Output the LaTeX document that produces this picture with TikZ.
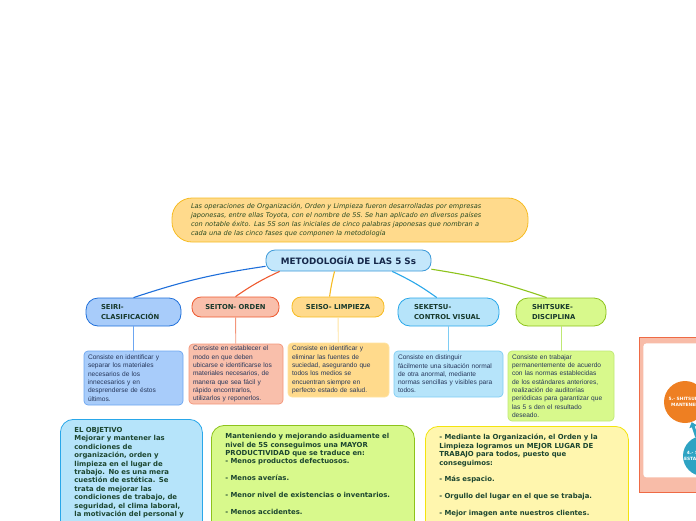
\documentclass[tikz,border=0pt]{standalone}
\usepackage{fontspec}
\setmainfont{DejaVu Sans}
\newfontfamily\descfont{Liberation Sans}
\usetikzlibrary{arrows.meta}
\definecolor{introFill}{HTML}{FFDA8C}
\definecolor{introLine}{HTML}{F6BB22}
\definecolor{introText}{HTML}{2A4A22}
\definecolor{metoFill}{HTML}{C4E7FB}
\definecolor{metoLine}{HTML}{3D9AD8}
\definecolor{metoText}{HTML}{16284A}
\definecolor{headText}{HTML}{17392C}
\definecolor{descText}{HTML}{26365A}
\definecolor{boldText}{HTML}{1C4630}
\definecolor{seiriFill}{HTML}{A8CCFA}
\definecolor{seiriLine}{HTML}{1F6FDA}
\definecolor{seiriSoft}{HTML}{6CA6F1}
\definecolor{seitonFill}{HTML}{F9BFAB}
\definecolor{seitonLine}{HTML}{EE5A30}
\definecolor{seitonSoft}{HTML}{F3957A}
\definecolor{seisoFill}{HTML}{FFDA8C}
\definecolor{seisoLine}{HTML}{F6BB22}
\definecolor{seisoSoft}{HTML}{FFE3A0}
\definecolor{seketsuFill}{HTML}{B6E4FA}
\definecolor{seketsuLine}{HTML}{29A7E9}
\definecolor{seketsuSoft}{HTML}{7ECDF4}
\definecolor{shitsukeFill}{HTML}{D8F98C}
\definecolor{shitsukeLine}{HTML}{8DC31C}
\definecolor{shitsukeSoft}{HTML}{BFE874}
\definecolor{ventajaFill}{HTML}{FFF6AE}
\definecolor{ventajaLine}{HTML}{F3E40E}
\definecolor{fotoFill}{HTML}{F8BCA8}
\definecolor{fotoLine}{HTML}{EE6A45}
\definecolor{pasoNaranja}{HTML}{EE7F22}
\definecolor{pasoTeal}{HTML}{2EA3C3}
\tikzset{
  caja/.style={draw,line width=.8pt,inner sep=0pt},
  tema/.style={caja,rounded corners=9pt,text=headText,font=\fontsize{6.8}{9.2}\selectfont\bfseries},
  desc/.style={caja,line width=.7pt,rounded corners=4pt,inner xsep=4pt,align=left,text=descText,font=\descfont\fontsize{6.6}{8.3}\selectfont},
  bloque/.style={caja,rounded corners=13pt,anchor=north west,inner xsep=14pt,inner ysep=8pt,text depth=110pt,align=left,text=boldText,font=\fontsize{6.9}{8.4}\selectfont\bfseries},
  rama/.style={line width=1.1pt},
  tallo/.style={line width=.9pt}
}
\begin{document}
\begin{tikzpicture}[x=1pt,y=-1pt]
\useasboundingbox (0,0) rectangle (696,520);
\clip (0,0) rectangle (696,520);
\node[caja,rounded corners=20pt,fill=introFill,draw=introLine,minimum width=356,minimum height=44,text width=318,align=left,text=introText,font=\fontsize{6.6}{9}\selectfont\itshape] (intro) at (350,220) {Las operaciones de Organización, Orden y Limpieza fueron desarrolladas por empresas\\japonesas, entre ellas Toyota, con el nombre de 5S. Se han aplicado en diversos países\\con notable éxito. Las 5S son las iniciales de cinco palabras japonesas que nombran a\\cada una de las cinco fases que componen la metodología};
\node[caja,rounded corners=9pt,fill=metoFill,draw=metoLine,minimum width=165,minimum height=21,text=metoText,font=\fontsize{8.8}{10}\selectfont\bfseries] (metodo) at (348.5,260.5) {METODOLOGÍA DE LAS 5 Ss};
\node[tema,fill=seiriFill,draw=seiriLine,minimum width=95,minimum height=28,rounded corners=12pt,text width=65,align=left] (seiri) at (133.5,312) {SEIRI-\\CLASIFICACIÓN};
\node[tema,fill=seitonFill,draw=seitonLine,minimum width=87,minimum height=20] (seiton) at (235.5,307) {SEITON- ORDEN};
\node[tema,fill=seisoFill,draw=seisoLine,minimum width=92,minimum height=20] (seiso) at (338,307) {SEISO- LIMPIEZA};
\node[tema,fill=seketsuFill,draw=seketsuLine,minimum width=101,minimum height=28,rounded corners=12pt,text width=69,align=left] (seketsu) at (448.5,312) {SEKETSU-\\CONTROL VISUAL};
\node[tema,fill=shitsukeFill,draw=shitsukeLine,minimum width=90,minimum height=28,rounded corners=12pt,text width=58,align=left] (shitsuke) at (561,312) {SHITSUKE-\\DISCIPLINA};
\draw[rama,seiriLine] (metodo.184) to[bend right=5] (seiri.north);
\draw[rama,seitonLine] (metodo.189) to[bend right=5] (seiton.north);
\draw[rama,seisoLine] (metodo.218) to[bend right=3] (seiso.129);
\draw[rama,seketsuLine] (metodo.346) to[bend left=5] (seketsu.129);
\draw[rama,shitsukeLine] (metodo.354) to[bend left=5] (shitsuke.135);
\node[desc,fill=seiriFill,draw=seiriSoft,minimum width=99,minimum height=54,text width=91] (seiriTxt) at (133.5,378) {Consiste en identificar y\\separar los materiales\\necesarios de los\\innecesarios y en\\desprenderse de éstos\\últimos.};
\node[desc,fill=seitonFill,draw=seitonSoft,minimum width=94,minimum height=60,text width=86] (seitonTxt) at (236,374) {Consiste en establecer el\\modo en que deben\\ubicarse e identificarse los\\materiales necesarios, de\\manera que sea fácil y\\rápido encontrarlos,\\utilizarlos y reponerlos.};
\node[desc,fill=seisoFill,draw=seisoSoft,minimum width=101,minimum height=54,text width=93] (seisoTxt) at (338.5,370) {Consiste en identificar y\\eliminar las fuentes de\\suciedad, asegurando que\\todos los medios se\\encuentran siempre en\\perfecto estado de salud.};
\node[desc,fill=seketsuFill,draw=seketsuSoft,minimum width=109,minimum height=46,text width=101] (seketsuTxt) at (448.5,374) {Consiste en distinguir\\fácilmente una situación normal\\de otra anormal, mediante\\normas sencillas y visibles para\\todos.};
\node[desc,fill=shitsukeFill,draw=shitsukeSoft,minimum width=106,minimum height=70,text width=98] (shitsukeTxt) at (561,386) {Consiste en trabajar\\permanentemente de acuerdo\\con las normas establecidas\\de los estándares anteriores,\\realización de auditorías\\periódicas para garantizar que\\las 5 s den el resultado\\deseado.};
\draw[tallo,seiriSoft] (seiri) -- (seiriTxt);
\draw[tallo,seitonSoft] (seiton) -- (seitonTxt);
\draw[tallo,seisoSoft] (seiso) -- (seisoTxt);
\draw[tallo,seketsuSoft] (seketsu) -- (seketsuTxt);
\draw[tallo,shitsukeSoft] (shitsuke) -- (shitsukeTxt);
\node[bloque,fill=seketsuFill,draw=seketsuLine,text width=114] (objetivo) at (60,419) {EL OBJETIVO\\Mejorar y mantener las\\condiciones de\\organización, orden y\\limpieza en el lugar de\\trabajo. No es una mera\\cuestión de estética. Se\\trata de mejorar las\\condiciones de trabajo, de\\seguridad, el clima laboral,\\la motivación del personal y};
\node[bloque,fill=shitsukeFill,draw=shitsukeLine,text width=175] (producto) at (211,425) {Manteniendo y mejorando asiduamente el\\nivel de 5S conseguimos una MAYOR\\PRODUCTIVIDAD que se traduce en:\\- Menos productos defectuosos.\\[8.4pt]- Menos averías.\\[8.4pt]- Menor nivel de existencias o inventarios.\\[8.4pt]- Menos accidentes.};
\node[bloque,fill=ventajaFill,draw=ventajaLine,text width=175] (lugar) at (425,426) {- Mediante la Organización, el Orden y la\\Limpieza logramos un MEJOR LUGAR DE\\TRABAJO para todos, puesto que\\conseguimos:\\[8.4pt]- Más espacio.\\[8.4pt]- Orgullo del lugar en el que se trabaja.\\[8.4pt]- Mejor imagen ante nuestros clientes.};
\node[caja,fill=fotoFill,draw=fotoLine,anchor=north west,minimum width=90,minimum height=155] (foto) at (639,337) {};
\node[caja,fill=white,draw=none,rounded corners=3pt,anchor=north west,minimum width=80,minimum height=134] (fotoIn) at (643,343) {};
\node[circle,fill=pasoNaranja,minimum size=42,inner sep=0pt,align=center,text=white,font=\fontsize{4.4}{5.4}\selectfont\bfseries] (paso5) at (685,402) {5.- SHITSUKE\\MANTENER};
\node[circle,fill=pasoTeal,minimum size=40,inner sep=0pt,align=center,text=white,font=\fontsize{4.4}{5.4}\selectfont\bfseries] (paso4) at (703,456) {4.- SEIKETSU\\ESTANDARIZAR};
\draw[pasoTeal,line width=3pt,-{Triangle[length=5pt,width=8pt]}] (paso4) -- (paso5);
\end{tikzpicture}
\end{document}
